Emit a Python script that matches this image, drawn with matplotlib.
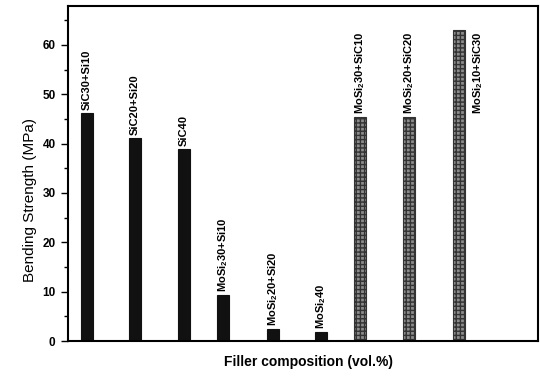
import matplotlib
matplotlib.use("Agg")
import matplotlib.pyplot as plt
from matplotlib.ticker import MultipleLocator

plt.rcParams['font.family'] = ['Liberation Sans', 'DejaVu Sans']
plt.rcParams['mathtext.fontset'] = 'custom'
plt.rcParams['mathtext.rm'] = 'Liberation Sans:bold'
plt.rcParams['mathtext.it'] = 'Liberation Sans:bold'
plt.rcParams['mathtext.bf'] = 'Liberation Sans:bold'

# data
compositions = ["SiC30+Si10", "SiC20+Si20", "SiC40",
                "MoSi$_2$30+Si10", "MoSi$_2$20+Si20", "MoSi$_2$40",
                "MoSi$_2$30+SiC10", "MoSi$_2$20+SiC20", "MoSi$_2$10+SiC30"]
strength = [46.2, 41.2, 38.9, 9.3, 2.5, 1.9, 45.4, 45.4, 63.1]

# layout (bar slots are not evenly spaced in the original)
slots = [0, 1.03, 2.09, 2.93, 4.0, 5.03, 5.86, 6.91, 7.99]
colors = ["#111111"] * 6 + ["#8c8c8c"] * 3

fig = plt.figure(figsize=(5.40, 3.76), dpi=100)
ax = fig.add_axes([0.126, 0.093, 0.870, 0.890])

bars = ax.bar(slots, strength, width=0.25, color=colors, edgecolor="#111111", linewidth=0.8)
for b in bars[6:]:
    b.set_hatch("++++")
    b.set_edgecolor("#333333")

for i, (x, v, lab) in enumerate(zip(slots, strength, compositions)):
    if i == 8:
        # last label sits beside the bar
        ax.annotate(lab, (x, v), xytext=(14, -1), textcoords="offset points",
                    rotation=90, ha="center", va="top", fontsize=8, fontweight="bold")
    else:
        ax.annotate(lab, (x, v), xytext=(0, 2), textcoords="offset points",
                    rotation=90, ha="center", va="bottom", fontsize=8, fontweight="bold")

ax.set_xlim(-0.40, 9.68)
ax.set_ylim(0, 67.8)
ax.set_xticks([])
ax.yaxis.set_major_locator(MultipleLocator(10))
ax.yaxis.set_minor_locator(MultipleLocator(5))
ax.tick_params(axis="y", which="major", direction="out", length=5, width=1, labelsize=8.5, pad=4)
ax.tick_params(axis="y", which="minor", direction="out", length=3, width=1)
for t in ax.get_yticklabels():
    t.set_fontweight("bold")
for s in ax.spines.values():
    s.set_linewidth(1.5)

ax.set_ylabel("Bending Strength (MPa)", fontsize=11)
ax.yaxis.set_label_coords(-0.066, 0.42)
fig.text(0.571, 0.037, "Filler composition (vol.%)", ha="center", va="center",
         fontsize=10, fontweight="bold")

fig.savefig("out.png", dpi=100)
